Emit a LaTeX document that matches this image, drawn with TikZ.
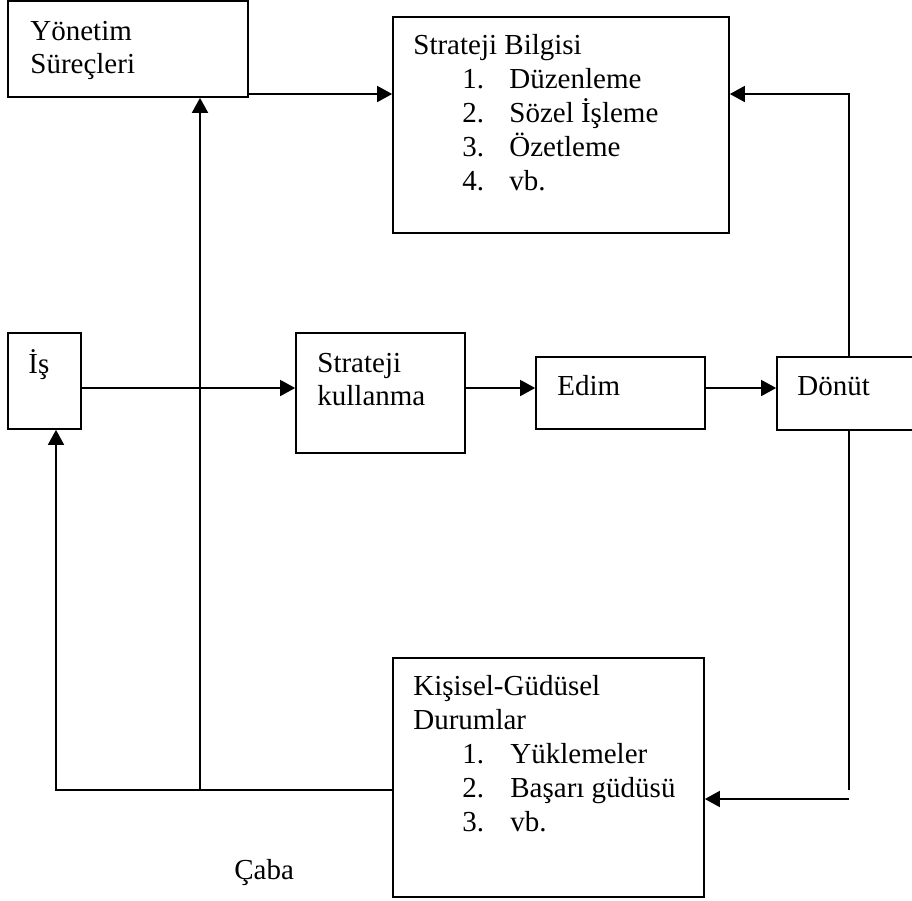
\documentclass[tikz,border=0pt]{standalone}
\usepackage{fontspec}
\setmainfont{Liberation Serif}
\usetikzlibrary{arrows.meta,fit}
\begin{document}
\begin{tikzpicture}[x=0.5pt,y=-0.5pt,
  box/.style={draw,line width=0.85pt,inner sep=0pt},
  ln/.style={line width=0.85pt},
  arr/.style={line width=0.85pt,-{Triangle[length=7.5pt,width=8pt]}},
  txt/.style={anchor=base west,inner sep=0pt,font=\fontsize{14.5}{17}\selectfont}]
\useasboundingbox (0,0) rectangle (912,901);
\clip (0,0) rectangle (912,901);
% boxes
\node[box,fit={(8,1)(248,97)}] (yon) {};
\node[box,fit={(393,17)(729,233)}] (sb) {};
\node[box,fit={(8,333)(81,429)}] (is) {};
\node[box,fit={(296,333)(465,453)}] (sk) {};
\node[box,fit={(536,357)(705,429)}] (edim) {};
\node[box,fit={(777,357)(916,430)}] (donut) {};
\node[box,fit={(393,658)(704,897)}] (kg) {};
% texts
\node[txt] (t1) at (30,40) {Yönetim};
\node[txt] (t2) at (30,73) {Süreçleri};
\node[txt] (t3) at (413,54) {Strateji Bilgisi};
\node[txt] (t4a) at (462,88) {1.};
\node[txt] (t4b) at (509,88) {Düzenleme};
\node[txt] (t5a) at (462,122) {2.};
\node[txt] (t5b) at (509,122) {Sözel İşleme};
\node[txt] (t6a) at (462,156) {3.};
\node[txt] (t6b) at (509,156) {Özetleme};
\node[txt] (t7a) at (462,190) {4.};
\node[txt] (t7b) at (509,190) {vb.};
\node[txt] (t8) at (28,373) {İş};
\node[txt] (t9) at (317,372) {Strateji};
\node[txt] (t10) at (317,405) {kullanma};
\node[txt] (t11) at (557,395) {Edim};
\node[txt] (t12) at (797,395) {Dönüt};
\node[txt] (t13) at (413,695) {Kişisel-Güdüsel};
\node[txt] (t14) at (413,729) {Durumlar};
\node[txt] (t15a) at (462,763) {1.};
\node[txt] (t15b) at (510,763) {Yüklemeler};
\node[txt] (t16a) at (462,797) {2.};
\node[txt] (t16b) at (510,797) {Başarı güdüsü};
\node[txt] (t17a) at (462,831) {3.};
\node[txt] (t17b) at (510,831) {vb.};
\node[txt] (t18) at (234,879) {Çaba};
% helper coordinates
\coordinate (r94) at (0,94);
\coordinate (r388) at (0,388);
\coordinate (r790) at (0,790);
\coordinate (r799) at (0,799);
\coordinate (x200) at (200,0);
\coordinate (x849) at (849,0);
\coordinate (x56) at (56,0);
% connectors
\draw[arr] (yon.east |- r94) -- (sb.west |- r94);
\draw[arr] (x200 |- r790) -- (x200 |- yon.south);
\draw[arr] (is.east |- r388) -- (sk.west |- r388);
\draw[arr] (sk.east |- r388) -- (edim.west |- r388);
\draw[arr] (edim.east |- r388) -- (donut.west |- r388);
\draw[arr] (x849 |- donut.north) -- (x849 |- r94) -- (sb.east |- r94);
\draw[ln] (x849 |- donut.south) -- (x849 |- r790);
\draw[arr] (x849 |- r799) -- (kg.east |- r799);
\draw[arr] (kg.west |- r790) -- (x56 |- r790) -- (x56 |- is.south);
\end{tikzpicture}
\end{document}
